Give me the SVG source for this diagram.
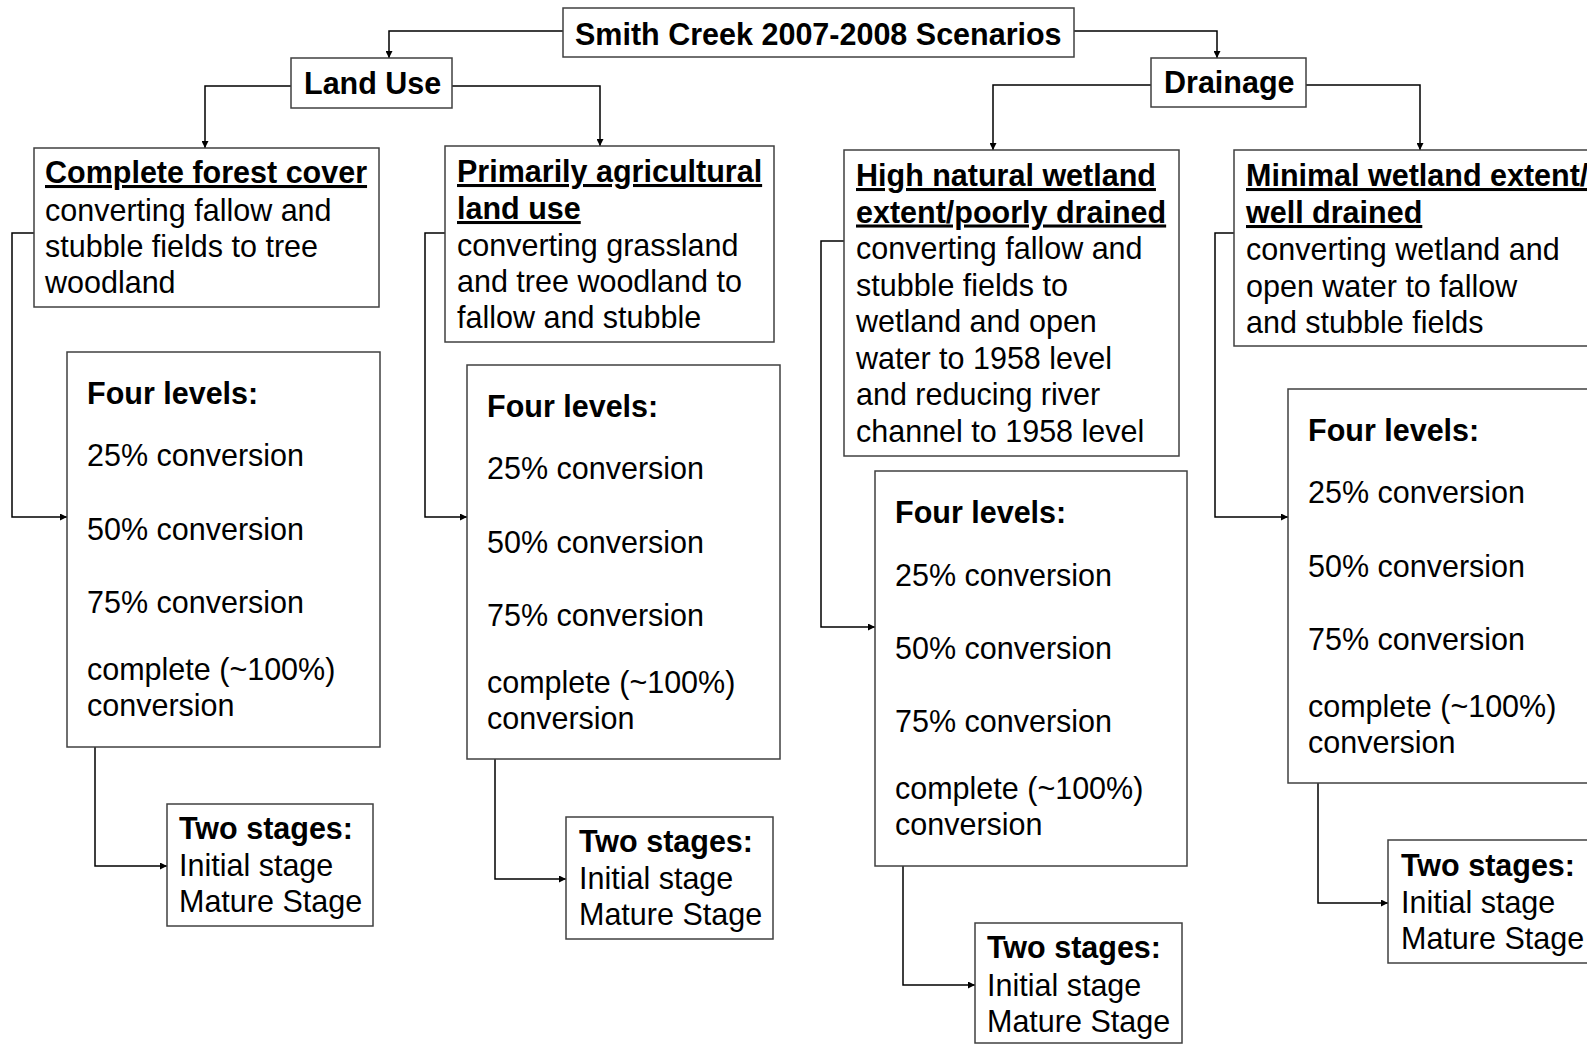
<svg xmlns="http://www.w3.org/2000/svg" width="1587" height="1044" viewBox="0 0 1587 1044">
<style>
.box{fill:#fff;stroke:#404040;stroke-width:1.5}
.t{font-family:"Liberation Sans",Arial,sans-serif;font-size:30.5px;fill:#000}
.b{font-weight:bold}
.u{text-decoration:underline;text-decoration-thickness:3px;text-underline-offset:5px}
.c{fill:none;stroke:#000;stroke-width:1.5}
</style>
<defs>
<marker id="ar" viewBox="0 0 10 10" refX="10" refY="5" markerWidth="9" markerHeight="7" markerUnits="userSpaceOnUse" orient="auto">
<path d="M0,0 L10,5 L0,10 z" fill="#000"/>
</marker>
</defs>
<rect width="1587" height="1044" fill="#fff"/>
<g id="connectors">
<path class="c" marker-end="url(#ar)" d="M563,31 H389 V58"/>
<path class="c" marker-end="url(#ar)" d="M1062,31 H1217 V58"/>
<path class="c" marker-end="url(#ar)" d="M291,86 H205 V148"/>
<path class="c" marker-end="url(#ar)" d="M452,86 H600 V146"/>
<path class="c" marker-end="url(#ar)" d="M1151,85 H993 V150"/>
<path class="c" marker-end="url(#ar)" d="M1306,85 H1420 V150"/>
<path class="c" marker-end="url(#ar)" d="M34,233 H12 V517 H67"/>
<path class="c" marker-end="url(#ar)" d="M445,233 H425 V517 H467"/>
<path class="c" marker-end="url(#ar)" d="M844,241 H821 V627 H875"/>
<path class="c" marker-end="url(#ar)" d="M1234,233 H1215 V517 H1288"/>
<path class="c" marker-end="url(#ar)" d="M95,747 V866 H167"/>
<path class="c" marker-end="url(#ar)" d="M495,759 V879 H566"/>
<path class="c" marker-end="url(#ar)" d="M903,866 V985 H975"/>
<path class="c" marker-end="url(#ar)" d="M1318,783 V903 H1388"/>
</g>
<g id="title">
<rect class="box" x="563" y="8" width="511" height="49"/>
<text class="t b" x="575" y="45">Smith Creek 2007-2008 Scenarios</text>
</g>
<g id="landuse">
<rect class="box" x="291" y="58" width="161" height="50"/>
<text class="t b" x="304" y="94">Land Use</text>
</g>
<g id="drainage">
<rect class="box" x="1151" y="58" width="155" height="49"/>
<text class="t b" x="1164" y="93">Drainage</text>
</g>
<g id="forest">
<rect class="box" x="34" y="148" width="345" height="159"/>
<text class="t b u" x="45" y="183">Complete forest cover</text>
<text class="t" x="45" y="221">converting fallow and</text>
<text class="t" x="45" y="257">stubble fields to tree</text>
<text class="t" x="45" y="293">woodland</text>
</g>
<g id="agri">
<rect class="box" x="445" y="146" width="329" height="196"/>
<text class="t b u" x="457" y="182">Primarily agricultural</text>
<text class="t b u" x="457" y="219">land use</text>
<text class="t" x="457" y="256">converting grassland</text>
<text class="t" x="457" y="292">and tree woodland to</text>
<text class="t" x="457" y="328">fallow and stubble</text>
</g>
<g id="highwet">
<rect class="box" x="844" y="150" width="335" height="306"/>
<text class="t b u" x="856" y="186">High natural wetland</text>
<text class="t b u" x="856" y="222.5">extent/poorly drained</text>
<text class="t" x="856" y="259">converting fallow and</text>
<text class="t" x="856" y="295.5">stubble fields to</text>
<text class="t" x="856" y="332">wetland and open</text>
<text class="t" x="856" y="368.5">water to 1958 level</text>
<text class="t" x="856" y="405">and reducing river</text>
<text class="t" x="856" y="441.5">channel to 1958 level</text>
</g>
<g id="minwet">
<rect class="box" x="1234" y="150" width="370" height="196"/>
<text class="t b u" x="1246" y="186">Minimal wetland extent/</text>
<text class="t b u" x="1246" y="223">well drained</text>
<text class="t" x="1246" y="260">converting wetland and</text>
<text class="t" x="1246" y="296.5">open water to fallow</text>
<text class="t" x="1246" y="333">and stubble fields</text>
</g>
<g id="levelsA">
<rect class="box" x="67" y="352" width="313" height="395"/>
<text class="t b" x="87" y="404">Four levels:</text>
<text class="t" x="87" y="466">25% conversion</text>
<text class="t" x="87" y="540">50% conversion</text>
<text class="t" x="87" y="613">75% conversion</text>
<text class="t" x="87" y="680">complete (~100%)</text>
<text class="t" x="87" y="716">conversion</text>
</g>
<g id="levelsB">
<rect class="box" x="467" y="365" width="313" height="394"/>
<text class="t b" x="487" y="417">Four levels:</text>
<text class="t" x="487" y="479">25% conversion</text>
<text class="t" x="487" y="553">50% conversion</text>
<text class="t" x="487" y="626">75% conversion</text>
<text class="t" x="487" y="693">complete (~100%)</text>
<text class="t" x="487" y="729">conversion</text>
</g>
<g id="levelsC">
<rect class="box" x="875" y="471" width="312" height="395"/>
<text class="t b" x="895" y="523">Four levels:</text>
<text class="t" x="895" y="586">25% conversion</text>
<text class="t" x="895" y="659">50% conversion</text>
<text class="t" x="895" y="732">75% conversion</text>
<text class="t" x="895" y="799">complete (~100%)</text>
<text class="t" x="895" y="835">conversion</text>
</g>
<g id="levelsD">
<rect class="box" x="1288" y="389" width="320" height="394"/>
<text class="t b" x="1308" y="441">Four levels:</text>
<text class="t" x="1308" y="503">25% conversion</text>
<text class="t" x="1308" y="577">50% conversion</text>
<text class="t" x="1308" y="650">75% conversion</text>
<text class="t" x="1308" y="717">complete (~100%)</text>
<text class="t" x="1308" y="753">conversion</text>
</g>
<g id="stagesA">
<rect class="box" x="167" y="804" width="206" height="122"/>
<text class="t b" x="179" y="839">Two stages:</text>
<text class="t" x="179" y="876">Initial stage</text>
<text class="t" x="179" y="912">Mature Stage</text>
</g>
<g id="stagesB">
<rect class="box" x="566" y="817" width="207" height="122"/>
<text class="t b" x="579" y="852">Two stages:</text>
<text class="t" x="579" y="889">Initial stage</text>
<text class="t" x="579" y="925">Mature Stage</text>
</g>
<g id="stagesC">
<rect class="box" x="975" y="923" width="207" height="120"/>
<text class="t b" x="987" y="958">Two stages:</text>
<text class="t" x="987" y="995.5">Initial stage</text>
<text class="t" x="987" y="1032">Mature Stage</text>
</g>
<g id="stagesD">
<rect class="box" x="1388" y="840" width="210" height="123"/>
<text class="t b" x="1401" y="876">Two stages:</text>
<text class="t" x="1401" y="912.5">Initial stage</text>
<text class="t" x="1401" y="949">Mature Stage</text>
</g>
</svg>
